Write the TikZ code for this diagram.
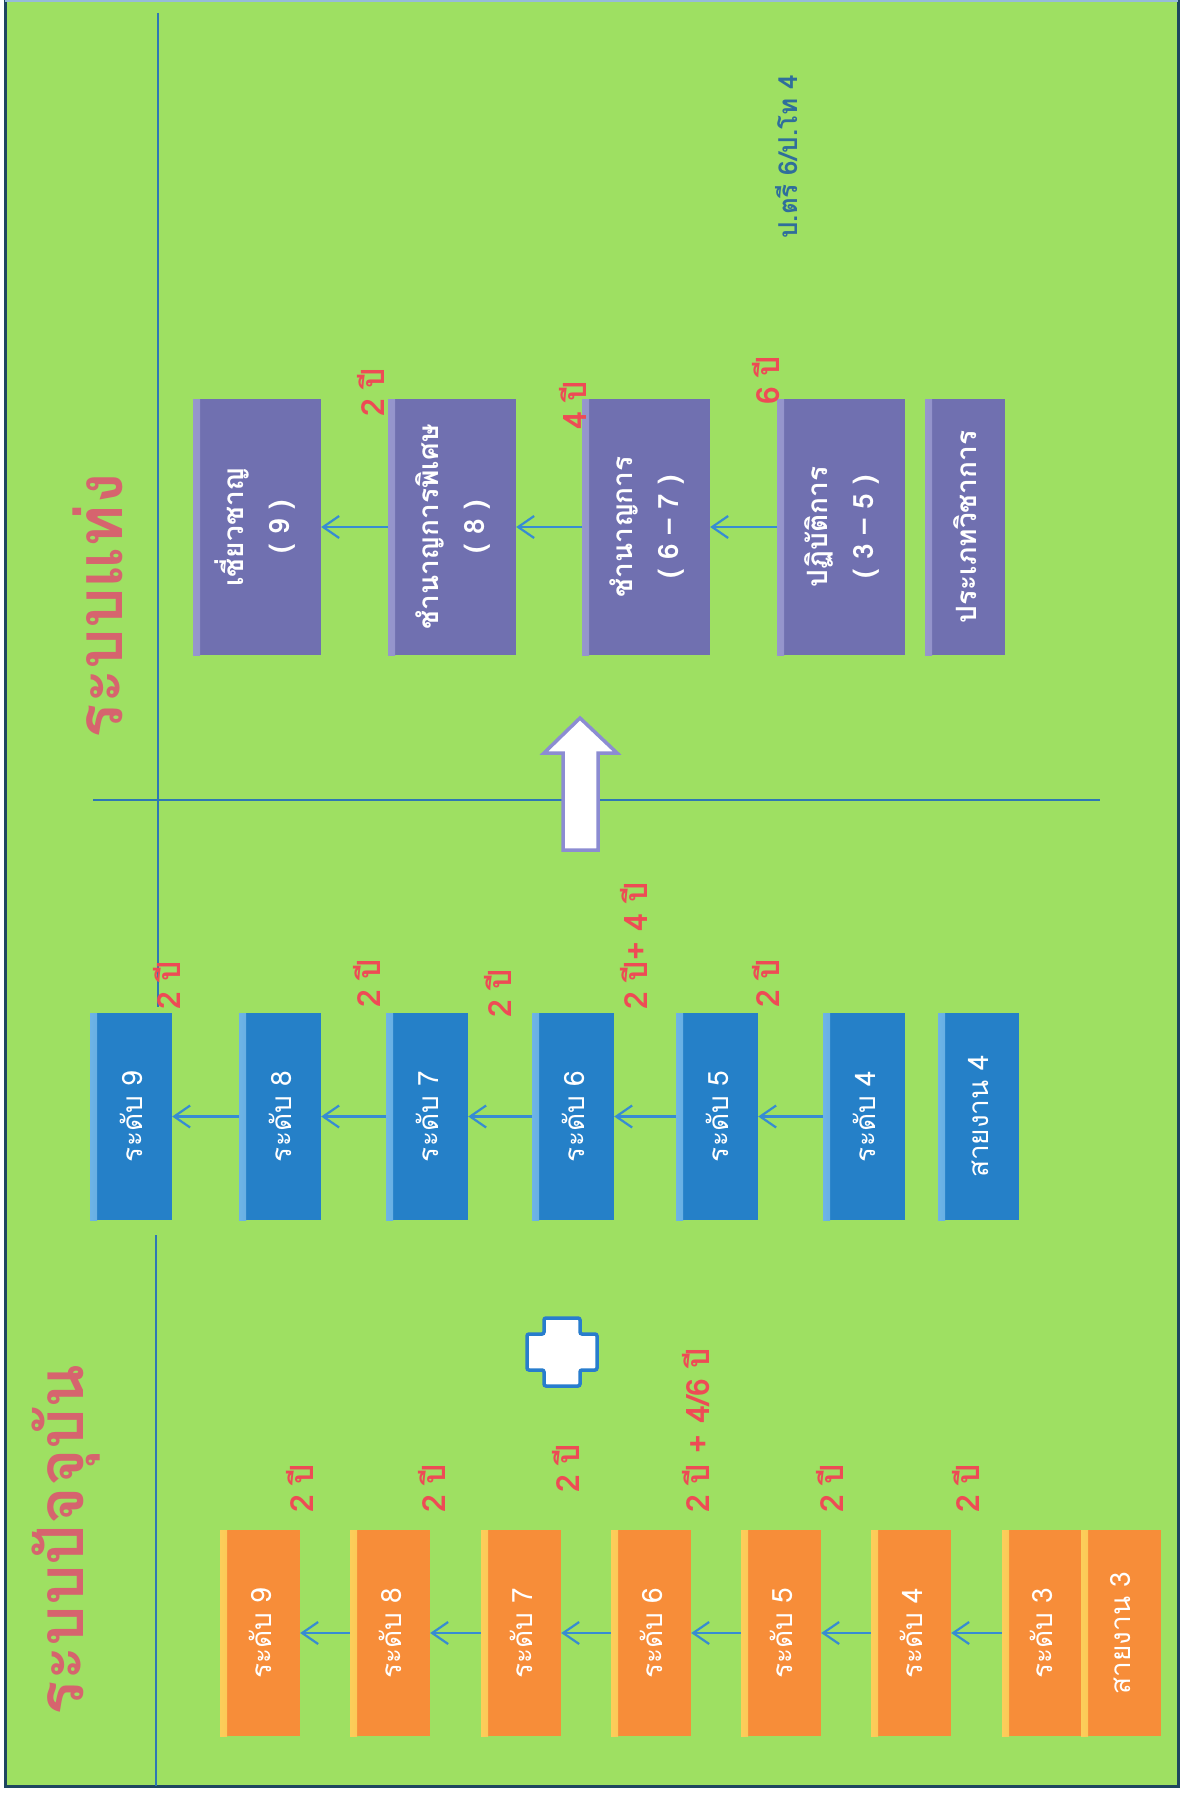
\documentclass[tikz,border=0pt]{standalone}
\usepackage{fontspec}
\usepackage{graphicx}
\usetikzlibrary{arrows.meta}
\newfontfamily\thai[Script=Thai]{Loma}
\definecolor{bgc}{RGB}{158,224,98}
\definecolor{framec}{RGB}{30,70,95}
\definecolor{linec}{RGB}{45,120,180}
\definecolor{arrc}{RGB}{55,140,210}
\definecolor{orangec}{RGB}{247,141,57}
\definecolor{orangehl}{RGB}{252,206,90}
\definecolor{bluec}{RGB}{37,128,200}
\definecolor{bluehl}{RGB}{110,180,230}
\definecolor{purplec}{RGB}{112,112,176}
\definecolor{purplehl}{RGB}{150,150,205}
\definecolor{redc}{RGB}{238,75,85}
\definecolor{titlec}{RGB}{214,100,110}
\definecolor{notec}{RGB}{47,110,155}
\definecolor{plusc}{RGB}{40,125,205}
\definecolor{uparrc}{RGB}{140,140,210}
\begin{document}
\begin{tikzpicture}[x=1pt,y=-1pt,
  box/.style={draw=none, inner sep=0pt, text=white},
  obox/.style={box, fill=orangec, minimum width=80pt, minimum height=206pt,
    font=\thai\fontsize{28}{34}\selectfont,
    path picture={\shade[left color=orangehl, right color=orangec]
      (path picture bounding box.south west) rectangle ([xshift=7pt]path picture bounding box.north west);}},
  bbox/.style={box, fill=bluec, minimum width=82pt, minimum height=207pt,
    font=\thai\fontsize{28}{34}\selectfont,
    path picture={\shade[left color=bluehl, right color=bluec]
      (path picture bounding box.south west) rectangle ([xshift=7pt]path picture bounding box.north west);}},
  pbox/.style={box, fill=purplec, minimum width=128pt, minimum height=256pt,
    font=\thai\bfseries\fontsize{28}{46}\selectfont,
    path picture={\shade[left color=purplehl, right color=purplec]
      (path picture bounding box.south west) rectangle ([xshift=7pt]path picture bounding box.north west);}},
  arr/.style={draw=arrc, line width=2.2pt, -{Straight Barb[length=16pt,width=22pt,line width=2.2pt]}},
  lab/.style={anchor=south, inner sep=0pt, text=redc, font=\thai\bfseries\fontsize{32}{36}\selectfont},
  titletext/.style={inner sep=0pt, text=titlec, font=\thai\bfseries\fontsize{64}{70}\selectfont},
  sep/.style={draw=linec, line width=2pt}
]
\useasboundingbox (0,0) rectangle (1181,1793);
\fill[white] (0,0) rectangle (1181,1793);
\fill[bgc] (5,0) rectangle (1178,1786);
\draw[framec, line width=3pt] (5,0) -- (5,1786) -- (1178,1786) -- (1178,0);
\draw[linec!50, line width=1.5pt] (5,1) -- (1178,1);

% separators
\draw[sep] (158,13) -- (158,1007);
\draw[sep] (156,1235) -- (156,1786);
\draw[sep] (93,800) -- (1100,800);

% titles
\node[titletext] (t1) at (66,1540) {\rotatebox{90}{ระบบปัจจุบัน}};
\node[titletext] (t2) at (98,606) {\rotatebox{90}{ระบบแท่ง}};
\node[inner sep=0pt, text=notec, font=\thai\bfseries\fontsize{26}{30}\selectfont] (note) at (787,157) {\rotatebox{90}{ป.ตรี 6/ป.โท 4}};

% orange column
\node[obox] (o9) at (260,1633) {\rotatebox{90}{ระดับ 9}};
\node[obox] (o8) at (390,1633) {\rotatebox{90}{ระดับ 8}};
\node[obox] (o7) at (521,1633) {\rotatebox{90}{ระดับ 7}};
\node[obox] (o6) at (651,1633) {\rotatebox{90}{ระดับ 6}};
\node[obox] (o5) at (781,1633) {\rotatebox{90}{ระดับ 5}};
\node[obox] (o4) at (911,1633) {\rotatebox{90}{ระดับ 4}};
\node[obox, minimum width=79pt] (o3) at (1041.5,1633) {\rotatebox{90}{ระดับ 3}};
\node[obox] (os3) at (1121,1633) {\rotatebox{90}{สายงาน 3}};
\draw[arr] (o8.west) -- (o9.east);
\draw[arr] (o7.west) -- (o8.east);
\draw[arr] (o6.west) -- (o7.east);
\draw[arr] (o5.west) -- (o6.east);
\draw[arr] (o4.west) -- (o5.east);
\draw[arr] (o3.west) -- (o4.east);
\node[lab] (lo9) at (300,1513) {\rotatebox{90}{2 ปี}};
\node[lab] (lo8) at (432,1513) {\rotatebox{90}{2 ปี}};
\node[lab] (lo7) at (566,1493) {\rotatebox{90}{2 ปี}};
\node[lab] (lo6) at (696,1513) {\rotatebox{90}{2 ปี + 4/6 ปี}};
\node[lab] (lo5) at (830,1513) {\rotatebox{90}{2 ปี}};
\node[lab] (lo4) at (966,1513) {\rotatebox{90}{2 ปี}};

% plus sign
\draw[plusc, fill=white, line width=3.5pt, rounded corners=2pt]
  (544,1318) -- (580,1318) -- (580,1334) -- (597,1334) -- (597,1370) -- (580,1370)
  -- (580,1386) -- (544,1386) -- (544,1370) -- (527,1370) -- (527,1334) -- (544,1334) -- cycle;

% blue column
\node[bbox] (b9) at (131,1116.5) {\rotatebox{90}{ระดับ 9}};
\node[bbox] (b8) at (280,1116.5) {\rotatebox{90}{ระดับ 8}};
\node[bbox] (b7) at (427,1116.5) {\rotatebox{90}{ระดับ 7}};
\node[bbox] (b6) at (573,1116.5) {\rotatebox{90}{ระดับ 6}};
\node[bbox] (b5) at (717,1116.5) {\rotatebox{90}{ระดับ 5}};
\node[bbox] (b4) at (864,1116.5) {\rotatebox{90}{ระดับ 4}};
\node[bbox, minimum width=81pt] (bs4) at (978.5,1116.5) {\rotatebox{90}{สายงาน 4}};
\draw[arr] (b8.west) -- (b9.east);
\draw[arr] (b7.west) -- (b8.east);
\draw[arr] (b6.west) -- (b7.east);
\draw[arr] (b5.west) -- (b6.east);
\draw[arr] (b4.west) -- (b5.east);
\node[lab] (lb9) at (167,1010) {\rotatebox{90}{2 ปี}};
\node[lab] (lb8) at (367,1008) {\rotatebox{90}{2 ปี}};
\node[lab] (lb7) at (498,1018) {\rotatebox{90}{2 ปี}};
\node[lab] (lb6) at (634,1010) {\rotatebox{90}{2 ปี+ 4 ปี}};
\node[lab] (lb5) at (766,1008) {\rotatebox{90}{2 ปี}};

% up arrow
\draw[uparrc, fill=white, line width=3.5pt, line join=miter]
  (580,718) -- (617,753) -- (598,753) -- (598,850) -- (563,850) -- (563,753) -- (544,753) -- cycle;

% purple column
\node[pbox] (p9) at (257,527) {\rotatebox{90}{\begin{tabular}{@{}c@{}}เชี่ยวชาญ\\( 9 )\end{tabular}}};
\node[pbox] (p8) at (452,527) {\rotatebox{90}{\begin{tabular}{@{}c@{}}ชำนาญการพิเศษ\\( 8 )\end{tabular}}};
\node[pbox] (p67) at (646,527) {\rotatebox{90}{\begin{tabular}{@{}c@{}}ชำนาญการ\\( 6 – 7 )\end{tabular}}};
\node[pbox] (p35) at (841,527) {\rotatebox{90}{\begin{tabular}{@{}c@{}}ปฏิบัติการ\\( 3 – 5 )\end{tabular}}};
\node[pbox, minimum width=80pt] (pa) at (965,527) {\rotatebox{90}{ประเภทวิชาการ}};
\draw[arr] (p8.west) -- (p9.east);
\draw[arr] (p67.west) -- (p8.east);
\draw[arr] (p35.west) -- (p67.east);
\node[lab] (lp8) at (371,417) {\rotatebox{90}{2 ปี}};
\node[lab] (lp67) at (573,430) {\rotatebox{90}{4 ปี}};
\node[lab] (lp35) at (766,405) {\rotatebox{90}{6 ปี}};
\end{tikzpicture}
\end{document}
